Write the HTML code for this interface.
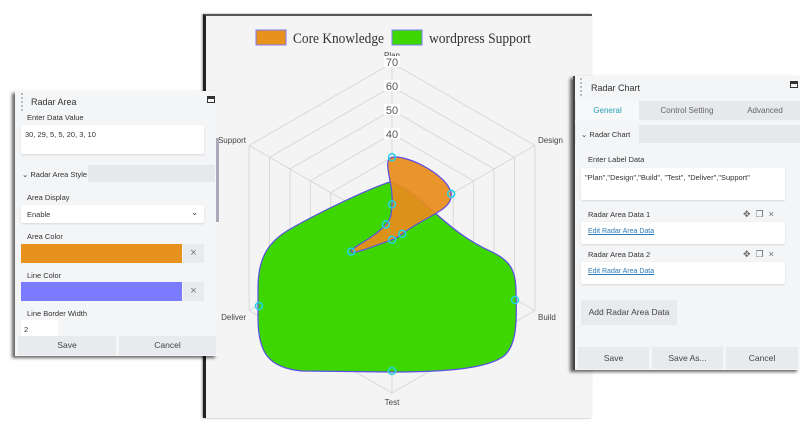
<!DOCTYPE html>
<html><head><meta charset="utf-8"><style>
*{box-sizing:border-box;margin:0;padding:0}
body{width:810px;height:430px;background:#fff;position:relative;overflow:hidden;font-family:"Liberation Sans",sans-serif;font-size:8px;color:#333}
.abs{position:absolute}
.panel{background:#f4f5f7;box-shadow:-3px 2px 3px rgba(0,0,0,.6)}
.lbl{position:absolute;font-size:7.5px;color:#333}
.box{position:absolute;background:#fff;border-radius:2px;box-shadow:0 1px 2px rgba(0,0,0,.12)}
.btn{position:absolute;background:#e8eaee;text-align:center;font-size:8.5px;color:#444}
</style></head><body>
<div class="abs" style="left:203px;top:14px;width:389px;height:404px;background:#f4f4f4;border-left:3px solid #222;border-top:2px solid #555;box-shadow:-1px 0 2px rgba(0,0,0,.4)"></div>
<svg class="abs" style="left:0;top:0" width="810" height="430" id="sv">
<g font-family="Liberation Serif,serif" font-size="15" fill="#333">
<rect x="256" y="30" width="30" height="15" fill="#e8921e" stroke="#7b7bff"/>
<text x="293" y="43" textLength="91" lengthAdjust="spacingAndGlyphs">Core Knowledge</text>
<rect x="392" y="30" width="30" height="15" fill="#3dd600" stroke="#7b7bff"/>
<text x="429" y="43" textLength="102" lengthAdjust="spacingAndGlyphs">wordpress Support</text>
</g>
<g id="grid" stroke="#d8d8d8" fill="none"></g>
<path d="M390,182 C370,188 320,212 292,228 C268,241 258,258 258,288 L258,318 C258,352 268,368 302,371 L392,372 C450,372 488,368 504,356 C517,345 517,320 516,292 C516,270 510,260 490,251 C468,241 452,228 434,212 C420,200 405,186 390,182Z" fill="#3dd600" stroke="#5a4de8" stroke-width="1.2"/>
<g fill="none" stroke="#22d3e8" stroke-width="1.5">
<circle cx="515" cy="300" r="3.5"/><circle cx="392" cy="371" r="3.5"/><circle cx="259" cy="306" r="3.5"/>
</g>
<g id="series"></g>
<g font-size="8" fill="#444" font-family="Liberation Sans,sans-serif">
<text x="392" y="58" text-anchor="middle">Plan</text>
<text x="538" y="143">Design</text>
<text x="538" y="320">Build</text>
<text x="392" y="405" text-anchor="middle">Test</text>
<text x="246" y="320" text-anchor="end">Deliver</text>
<text x="246" y="143" text-anchor="end">Support</text>
</g>
<g font-size="11" fill="#555" text-anchor="middle" font-family="Liberation Sans,sans-serif">
<rect x="384" y="56" width="16" height="11" fill="#fff"/><text x="392" y="66">70</text>
<rect x="384" y="80" width="16" height="11" fill="#fff"/><text x="392" y="90">60</text>
<rect x="384" y="104" width="16" height="11" fill="#fff"/><text x="392" y="114">50</text>
<rect x="384" y="128" width="16" height="11" fill="#fff"/><text x="392" y="138">40</text>
</g>
</svg>
<script>
var cx=392,cy=228,R=165,max=70,ns="http://www.w3.org/2000/svg";
function pt(v,i){var a=-Math.PI/2+i*Math.PI/3,r=v/max*R;return [cx+r*Math.cos(a),cy+r*Math.sin(a)];}
var g=document.getElementById('grid');
for(var k=1;k<=7;k++){var p=[];for(var i=0;i<6;i++)p.push(pt(k*10,i).join(','));var e=document.createElementNS(ns,'polygon');e.setAttribute('points',p.join(' '));g.appendChild(e);}
for(var i=0;i<6;i++){var q=pt(70,i);var l=document.createElementNS(ns,'line');l.setAttribute('x1',cx);l.setAttribute('y1',cy);l.setAttribute('x2',q[0]);l.setAttribute('y2',q[1]);g.appendChild(l);}
function path(vals,t){var P=vals.map(function(v,i){return pt(v,i)}),n=P.length,C=[];
for(var i=0;i<n;i++){var a=P[(i-1+n)%n],b=P[i],c=P[(i+1)%n];var d1=Math.hypot(b[0]-a[0],b[1]-a[1]),d2=Math.hypot(c[0]-b[0],c[1]-b[1]);var s=d1+d2||1,fa=t*d1/s,fb=t*d2/s;
C.push([[b[0]-fa*(c[0]-a[0]),b[1]-fa*(c[1]-a[1])],[b[0]+fb*(c[0]-a[0]),b[1]+fb*(c[1]-a[1])]]);}
var d='M'+P[0].join(',');for(var i=0;i<n;i++){var j=(i+1)%n;d+=' C'+C[i][1].join(',')+' '+C[j][0].join(',')+' '+P[j].join(',');}return {d:d+'Z',P:P};}
var S=document.getElementById('series');
function draw(vals,fill){var r=path(vals,0.45);var e=document.createElementNS(ns,'path');e.setAttribute('d',r.d);e.setAttribute('fill',fill);e.setAttribute('stroke','#5a4de8');e.setAttribute('stroke-width','1.2');S.appendChild(e);
r.P.forEach(function(p){var c=document.createElementNS(ns,'circle');c.setAttribute('cx',p[0]);c.setAttribute('cy',p[1]);c.setAttribute('r',3.5);c.setAttribute('fill','none');c.setAttribute('stroke','#22d3e8');c.setAttribute('stroke-width','1.5');S.appendChild(c);});}
draw([30,29,5,5,20,3,10],'rgba(232,140,28,0.93)');
</script>

<div class="abs panel" style="left:15px;top:91px;width:203px;height:265px">
  <div class="abs" style="left:6px;top:2px;width:3px;height:18px;border-left:2px dotted #bbb"></div>
  <div class="abs" style="left:16px;top:6px;font-size:9px;color:#333">Radar Area</div>
  <div class="abs" style="left:192px;top:5px;width:8px;height:7px;border:1.5px solid #333;border-top-width:3px"></div>
  <div class="lbl" style="left:12px;top:22px">Enter Data Value</div>
  <div class="box" style="left:6px;top:34px;width:183px;height:29px"><span style="position:absolute;left:4px;top:5px;font-size:7.5px">30, 29, 5, 5, 20, 3, 10</span></div>
  <div class="abs" style="left:1px;top:74px;width:199px;height:17px;background:#e6e8ec"></div>
  <div class="abs" style="left:1px;top:74px;width:72px;height:17px;background:#f4f5f7;font-size:7.5px;padding:5px 0 0 6px">&#8964; Radar Area Style</div>
  <div class="abs" style="left:201px;top:47px;width:3px;height:84px;background:#aab"></div>
  <div class="lbl" style="left:12px;top:102px">Area Display</div>
  <div class="box" style="left:6px;top:114px;width:183px;height:18px"><span style="position:absolute;left:6px;top:5px;font-size:7.5px">Enable</span><span style="position:absolute;right:6px;top:3px;font-size:8px">&#8964;</span></div>
  <div class="lbl" style="left:12px;top:141px">Area Color</div>
  <div class="abs" style="left:6px;top:153px;width:161px;height:19px;background:#e8921e"></div>
  <div class="abs" style="left:168px;top:153px;width:21px;height:19px;background:#e8eaee;text-align:center;font-size:11px;color:#777;line-height:19px">×</div>
  <div class="lbl" style="left:12px;top:180px">Line Color</div>
  <div class="abs" style="left:6px;top:191px;width:161px;height:19px;background:#7b7bff"></div>
  <div class="abs" style="left:168px;top:191px;width:21px;height:19px;background:#e8eaee;text-align:center;font-size:11px;color:#777;line-height:19px">×</div>
  <div class="lbl" style="left:12px;top:218px">Line Border Width</div>
  <div class="abs" style="left:6px;top:229px;width:37px;height:16px;background:#fff;font-size:7.5px;padding:5px 0 0 3px">2</div>
  <div class="btn" style="left:3px;top:245px;width:98px;height:19px;line-height:19px">Save</div>
  <div class="btn" style="left:104px;top:245px;width:97px;height:19px;line-height:19px">Cancel</div>
</div>

<div class="abs panel" style="left:573px;top:76px;width:227px;height:294px;border-left:2px solid #444">
  <div class="abs" style="left:5px;top:2px;width:3px;height:18px;border-left:2px dotted #bbb"></div>
  <div class="abs" style="left:16px;top:7px;font-size:9px;color:#333">Radar Chart</div>
  <div class="abs" style="left:215px;top:5px;width:8px;height:7px;border:1.5px solid #333;border-top-width:3px"></div>
  <div class="abs" style="left:0;top:25px;width:225px;height:19px;background:#e6e8ec"></div>
  <div class="abs" style="left:1px;top:25px;width:63px;height:19px;background:#f7f8fa;text-align:center;line-height:19px;font-size:8px;color:#2aa0b8">General</div>
  <div class="abs" style="left:72px;top:25px;width:80px;text-align:center;line-height:19px;font-size:8px;color:#666">Control Setting</div>
  <div class="abs" style="left:160px;top:25px;width:60px;text-align:center;line-height:19px;font-size:8px;color:#666">Advanced</div>
  <div class="abs" style="left:0;top:49px;width:225px;height:18px;background:#e6e8ec"></div>
  <div class="abs" style="left:1px;top:49px;width:63px;height:18px;background:#f4f5f7;font-size:7.5px;padding:5px 0 0 5px">&#8964; Radar Chart</div>
  <div class="lbl" style="left:13px;top:79px">Enter Label Data</div>
  <div class="box" style="left:6px;top:92px;width:204px;height:32px"><span style="position:absolute;left:4px;top:5px;font-size:7.5px">"Plan","Design","Build", "Test", "Deliver","Support"</span></div>
  <div class="lbl" style="left:13px;top:134px">Radar Area Data 1</div>
  <div class="abs" style="left:168px;top:133px;font-size:9px;color:#666;letter-spacing:5px">✥❐×</div>
  <div class="box" style="left:6px;top:146px;width:204px;height:22px"><span style="position:absolute;left:7px;top:6px;font-size:7px;color:#2a7ab8;text-decoration:underline">Edit Radar Area Data</span></div>
  <div class="lbl" style="left:13px;top:174px">Radar Area Data 2</div>
  <div class="abs" style="left:168px;top:173px;font-size:9px;color:#666;letter-spacing:5px">✥❐×</div>
  <div class="box" style="left:6px;top:186px;width:204px;height:22px"><span style="position:absolute;left:7px;top:6px;font-size:7px;color:#2a7ab8;text-decoration:underline">Edit Radar Area Data</span></div>
  <div class="btn" style="left:6px;top:224px;width:96px;height:25px;line-height:25px;font-size:8.5px;color:#444">Add Radar Area Data</div>
  <div class="btn" style="left:3px;top:271px;width:71px;height:22px;line-height:22px">Save</div>
  <div class="btn" style="left:77px;top:271px;width:71px;height:22px;line-height:22px">Save As...</div>
  <div class="btn" style="left:151px;top:271px;width:72px;height:22px;line-height:22px">Cancel</div>
</div>
</body></html>
